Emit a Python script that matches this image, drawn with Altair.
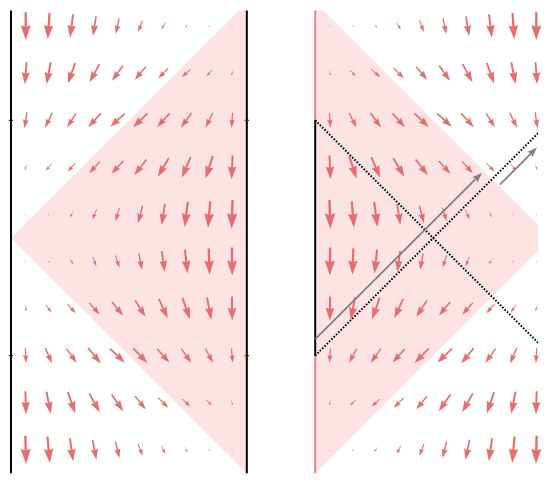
import math
import altair as alt
import pandas as pd

# ---------------- data ----------------
GRID_X = [0.0625, 0.1597, 0.2569, 0.3542, 0.4514, 0.5486, 0.6458, 0.7431, 0.8403, 0.9375]
GRID_Y = [0.9, 0.7, 0.5, 0.3, 0.1, -0.1, -0.3, -0.5, -0.7, -0.9]

# arrow components of the left panel (1 = 1/238.5 data unit), rows top -> bottom
U_LEFT = [
    [0.0, -1.7, -3.0, -3.3, -3.3, -4.3, -4.0, -2.3, -1.3, -0.3],
    [-1.7, -4.3, -7.3, -10.0, -11.0, -11.3, -10.0, -9.0, -5.7, -1.3],
    [-2.3, -7.3, -9.0, -12.7, -14.7, -14.7, -12.7, -10.7, -7.3, -1.0],
    [-1.7, -5.7, -8.0, -10.7, -11.7, -12.3, -11.3, -9.0, -7.3, -1.0],
    [0.0, -1.7, -2.3, -4.3, -4.0, -4.7, -3.3, -3.3, -2.3, -1.0],
    [0.3, 2.3, 3.3, 3.7, 4.0, 3.0, 3.0, 2.7, 1.0, 0.3],
    [1.7, 5.7, 8.3, 10.7, 11.3, 10.7, 9.0, 7.7, 4.3, 0.3],
    [0.7, 6.7, 10.3, 12.7, 15.0, 14.3, 12.3, 10.0, 7.7, 1.0],
    [0.7, 4.3, 7.3, 10.7, 11.7, 10.7, 10.0, 8.3, 5.7, 1.7],
    [0.7, 2.3, 3.3, 4.0, 4.0, 4.7, 4.0, 3.3, 1.7, 0.3],
]
V_LEFT = [
    [-28.3, -26.7, -23.7, -20.0, -15.7, -11.7, -7.3, -3.7, -1.7, -0.7],
    [-22.3, -22.3, -20.7, -18.3, -15.3, -13.3, -10.0, -8.0, -6.0, -5.0],
    [-16.0, -15.0, -14.0, -14.0, -13.3, -14.0, -14.0, -14.7, -14.7, -15.0],
    [-5.7, -6.7, -8.3, -11.7, -13.0, -16.0, -19.0, -21.0, -22.7, -24.0],
    [-1.3, -2.7, -6.0, -10.0, -13.3, -17.7, -21.3, -25.3, -26.7, -29.3],
    [-1.7, -2.3, -5.7, -9.3, -12.3, -16.7, -21.0, -24.0, -26.7, -28.3],
    [-6.0, -7.7, -9.3, -11.7, -14.0, -16.7, -19.7, -21.7, -22.7, -24.3],
    [-15.0, -15.7, -14.3, -15.7, -14.3, -15.0, -13.7, -14.3, -14.3, -14.3],
    [-23.3, -22.3, -21.7, -19.0, -17.0, -13.3, -10.0, -7.7, -5.7, -5.0],
    [-28.7, -26.7, -23.3, -20.0, -16.7, -12.0, -8.3, -5.0, -2.7, -1.3],
]

RIGHT_OFFSET = 1.29          # where the right panel starts on the shared x axis
SOLID_EDGE = [-0.5, 0.5]     # black part of the right panel's left edge
TICKS_Y = [-0.5, 0.5]

# grey rays in right-panel coordinates (start -> tip)
RAY_START_X = [0.0, 0.783]
RAY_START_Y = [-0.43, 0.227]
RAY_END_X = [0.7065, 0.94]
RAY_END_Y = [0.2765, 0.384]

# ---------------- layout / style ----------------
W, H = 534, 468
X_DOMAIN = [-0.0042, 2.2348]
Y_DOMAIN = [-1.0, 0.966]
PXX = W / (X_DOMAIN[1] - X_DOMAIN[0])
PXY = H / (Y_DOMAIN[1] - Y_DOMAIN[0])
REF_PX = 238.5
MIN_ARROW_PX = 2.5

PINK = "#fde3e4"
ARROW = "#e56f6f"
EDGE_PINK = "#e98282"
GREY = "#808080"

ARROW_PATH = "M0,-1L0.36,0.07L0.085,-0.02L0.085,1L-0.085,1L-0.085,-0.02L-0.36,0.07Z"
HEAD_PATH = "M0,0L0.75,2L0,1.65L-0.75,2Z"

xs = alt.Scale(domain=X_DOMAIN, nice=False, zero=False)
ys = alt.Scale(domain=Y_DOMAIN, nice=False, zero=False)


def heading(dx_px, dy_px_up):
    return math.degrees(math.atan2(dx_px, dy_px_up)) % 360


# ---------------- quiver table ----------------
rows = []
for r, yv in enumerate(GRID_Y):
    for c, xv in enumerate(GRID_X):
        for panel in ("left", "right"):
            if panel == "left":
                u, v, x0 = U_LEFT[r][c], V_LEFT[r][c], xv
            else:
                u, v, x0 = -U_LEFT[r][9 - c], V_LEFT[r][9 - c], RIGHT_OFFSET + xv
            dxp = u * PXX / REF_PX
            dyp = v * PXY / REF_PX
            L = max(math.hypot(dxp, dyp), MIN_ARROW_PX)
            rows.append({"x": x0, "y": yv, "size": L * L, "angle": heading(dxp, dyp)})
quiver = pd.DataFrame(rows)

arrows = alt.Chart(quiver).mark_point(
    shape=ARROW_PATH, filled=True, color=ARROW, opacity=1, strokeWidth=0
).encode(
    x=alt.X("x:Q", scale=xs, axis=None),
    y=alt.Y("y:Q", scale=ys, axis=None),
    size=alt.Size("size:Q", scale=None),
    angle=alt.Angle("angle:Q", scale=None),
)

# ---------------- pink regions ----------------
tri_left = pd.DataFrame({"x": [0, 1], "top": [0, 1], "bot": [0, -1]})
tri_right = pd.DataFrame({"x": [RIGHT_OFFSET, RIGHT_OFFSET + 1], "top": [1, 0], "bot": [-1, 0]})


def tri(df):
    return alt.Chart(df).mark_area(color=PINK, opacity=1, clip=True).encode(
        x=alt.X("x:Q", scale=xs, axis=None),
        y=alt.Y("top:Q", scale=ys, axis=None),
        y2="bot:Q",
    )


# ---------------- edges ----------------
edges = pd.DataFrame({
    "x": [0, 1, RIGHT_OFFSET, RIGHT_OFFSET, RIGHT_OFFSET],
    "y": [-1, -1, SOLID_EDGE[1], SOLID_EDGE[0], -1],
    "y2": [1, 1, 1, SOLID_EDGE[1], SOLID_EDGE[0]],
    "col": ["black", "black", EDGE_PINK, "black", EDGE_PINK],
})
edge_layer = alt.Chart(edges).mark_rule(strokeWidth=2, clip=True).encode(
    x=alt.X("x:Q", scale=xs, axis=None),
    y=alt.Y("y:Q", scale=ys, axis=None),
    y2="y2:Q",
    color=alt.Color("col:N", scale=None),
)

ticks = pd.DataFrame({
    "x": [-0.009, -0.009, 0.991, 0.991],
    "x2": [0.009, 0.009, 1.009, 1.009],
    "y": TICKS_Y + TICKS_Y,
})
tick_layer = alt.Chart(ticks).mark_rule(strokeWidth=1, color="black").encode(
    x=alt.X("x:Q", scale=xs, axis=None), x2="x2:Q",
    y=alt.Y("y:Q", scale=ys, axis=None),
)

# ---------------- dotted characteristics ----------------
dots = pd.DataFrame({
    "x": [RIGHT_OFFSET, RIGHT_OFFSET],
    "x2": [RIGHT_OFFSET + 1, RIGHT_OFFSET + 1],
    "y": [SOLID_EDGE[1], SOLID_EDGE[0]],
    "y2": [SOLID_EDGE[0], SOLID_EDGE[1]],
})
dot_layer = alt.Chart(dots).mark_rule(
    strokeWidth=2, color="black", strokeDash=[1.6, 1.7], clip=True
).encode(
    x=alt.X("x:Q", scale=xs, axis=None), x2="x2:Q",
    y=alt.Y("y:Q", scale=ys, axis=None), y2="y2:Q",
)

# ---------------- grey rays ----------------
ray_rows = []
for sx, sy, ex, ey in zip(RAY_START_X, RAY_START_Y, RAY_END_X, RAY_END_Y):
    dx, dy = ex - sx, ey - sy
    n = math.hypot(dx, dy)
    back = 4 / REF_PX
    ray_rows.append({
        "x": RIGHT_OFFSET + sx, "y": sy,
        "x2": RIGHT_OFFSET + ex - back * dx / n, "y2": ey - back * dy / n,
        "tx": RIGHT_OFFSET + ex, "ty": ey,
        "angle": heading(dx * PXX, dy * PXY),
    })
rays = pd.DataFrame(ray_rows)
ray_shaft = alt.Chart(rays).mark_rule(strokeWidth=1.8, color=GREY).encode(
    x=alt.X("x:Q", scale=xs, axis=None), x2="x2:Q",
    y=alt.Y("y:Q", scale=ys, axis=None), y2="y2:Q",
)
ray_head = alt.Chart(rays).mark_point(
    shape=HEAD_PATH, filled=True, color=GREY, opacity=1, strokeWidth=0, size=100
).encode(
    x=alt.X("tx:Q", scale=xs, axis=None),
    y=alt.Y("ty:Q", scale=ys, axis=None),
    angle=alt.Angle("angle:Q", scale=None),
)

chart = alt.layer(
    tri(tri_left), tri(tri_right), arrows, edge_layer, tick_layer,
    dot_layer, ray_shaft, ray_head,
).properties(width=W, height=H, padding=0).configure_view(strokeWidth=0)

chart.save("out.html", embed_options={"renderer": "svg", "actions": False})
